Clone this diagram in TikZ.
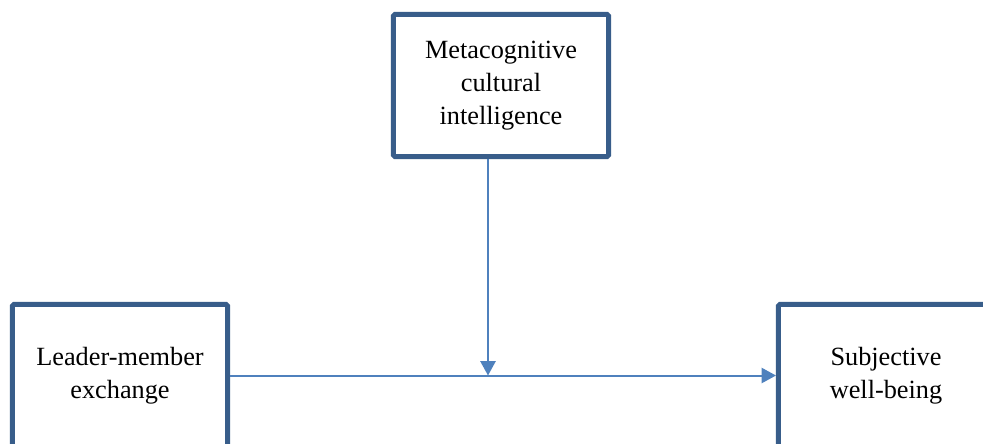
\documentclass[tikz,border=0pt]{standalone}
\usepackage{fontspec}
\setmainfont{Liberation Serif}
\usetikzlibrary{arrows.meta}

\definecolor{boxblue}{HTML}{385D8A}
\definecolor{lineblue}{HTML}{4F81BD}

\tikzset{
  varbox/.style = {draw = boxblue, line width = 0.125cm, fill = white,
                   rounded corners = 1pt, minimum width = 5.375cm,
                   minimum height = 3.55cm, align = center,
                   font = \fontsize{18.7}{23.5}\selectfont},
  link/.style = {draw = lineblue, line width = 0.05cm,
                 -{Triangle[length = 0.36cm, width = 0.38cm]}}
}

\begin{document}
\begin{tikzpicture}[x = 0.025cm, y = -0.025cm]
                \useasboundingbox [clip] (0, 0) rectangle (983, 443);

                \node [varbox] (mci) at (501, 85.5) {Metacognitive\\cultural\\intelligence};
                \node [varbox] (lmx) at (120, 375.5) {Leader-member\\exchange};
                \node [varbox] (swb) at (886, 375.5) {Subjective\\well-being};

                \coordinate (join) at (488, 375.5);

                \draw [link] (lmx.east) -- (swb.west);
                \draw [link] (mci.south -| join) -- (join);
            \end{tikzpicture}
\end{document}
